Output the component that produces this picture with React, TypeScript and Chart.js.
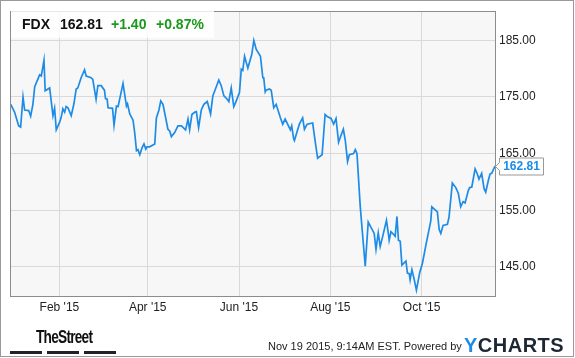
import React, { useEffect, useRef } from "react";
import { Chart, registerables } from "chart.js";

Chart.register(...registerables);

// Day offset from Jan 1 2015 (0 = Jan 1)
const days = [
  -1.5, 1.1, 3.8, 5.1, 6.7, 7.8, 10.5, 11.8, 13.3, 14.5, 17.8, 18.9, 20.7, 21.5, 24.5, 26.7, 27.8, 28.9,
  31.1, 32.2, 33.3, 34.5, 35.5, 36.7, 38.9, 40.7, 42.2, 43.3, 45.5, 47.8, 48.9, 52.2, 53.3, 55.5, 56.7,
  58.9, 61.1, 61.8, 62.9, 63.5, 66.5, 67.5, 69.1, 70.2, 73.5, 75.8, 76.5, 78.0, 80.2, 81.3, 82.5, 83.5,
  84.7, 86.2, 87.5, 88.7, 89.5, 91.3, 94.7, 95.8, 97.5, 98.7, 100.2, 103.5, 104.7, 105.8, 108.0, 110.2,
  112.5, 115.3, 116.9, 118.0, 119.5, 121.3, 122.5, 124.0, 125.8, 127.5, 129.8, 132.0, 133.5, 137.5, 139.1,
  140.9, 143.1, 144.2, 145.8, 147.5, 148.7, 151.3, 152.5, 153.5, 154.7, 156.9, 159.5, 160.9, 162.5, 165.3,
  166.9, 167.5, 168.5, 169.1, 171.3, 172.5, 174.2, 175.8, 178.7, 180.2, 181.8, 185.3, 186.2, 187.5, 188.0,
  191.3, 193.5, 194.7, 196.5, 200.2, 201.8, 203.5, 206.5, 208.5, 210.2, 212.5, 214.2, 215.8, 217.5, 219.1,
  220.7, 222.0, 223.5, 224.7, 227.5, 228.7, 229.8, 232.0, 235.3, 237.3, 241.3, 242.5, 244.0, 245.3, 246.9,
  249.5, 250.9, 251.3, 252.5, 254.0, 255.3, 256.5, 257.5, 258.7, 259.8, 262.5, 263.5, 264.7, 265.3, 266.5,
  268.0, 269.5, 271.8, 273.5, 275.8, 279.1, 279.8, 283.5, 284.7, 285.8, 287.3, 290.2, 291.3, 293.5, 295.8,
  297.5, 299.1, 300.7, 302.0, 304.2, 305.1, 306.5, 308.7, 310.2, 311.3, 313.1, 314.7, 315.8, 317.5, 318.7,
  319.8, 322,
];

const prices = [
  173.7, 172.3, 169.9, 169.7, 175.0, 172.7, 172.6, 171.6, 173.7, 176.8, 178.9, 178.7, 181.5, 176.1, 176.6,
  171.7, 173.0, 169.2, 170.5, 171.4, 172.9, 172.3, 173.3, 173.1, 171.7, 173.8, 176.4, 176.6, 178.4, 179.8,
  178.7, 178.4, 178.1, 174.6, 177.0, 177.0, 176.2, 174.7, 174.6, 173.1, 173.0, 170.0, 173.4, 173.3, 177.4,
  173.4, 173.8, 172.0, 170.9, 168.7, 165.5, 165.7, 164.8, 166.0, 166.7, 165.8, 166.2, 166.2, 166.7, 171.3,
  172.7, 174.3, 173.7, 169.3, 169.0, 168.0, 168.7, 169.9, 169.9, 169.2, 171.1, 169.2, 171.9, 172.3, 172.4,
  169.6, 172.7, 173.7, 174.2, 172.0, 175.2, 178.0, 177.0, 175.2, 174.6, 174.2, 176.6, 173.3, 174.0, 175.8,
  179.9, 179.7, 182.2, 180.1, 182.5, 185.0, 183.4, 182.2, 178.4, 178.4, 175.9, 176.2, 176.4, 176.2, 173.1,
  173.7, 171.3, 170.2, 171.1, 169.2, 169.9, 167.6, 167.3, 170.2, 171.3, 169.3, 170.2, 170.4, 167.3, 164.2,
  164.8, 171.9, 171.5, 171.2, 170.2, 171.2, 167.0, 168.2, 169.3, 167.3, 163.6, 164.8, 165.0, 165.7, 165.0,
  155.6, 145.1, 152.9, 150.9, 148.1, 151.0, 148.6, 150.3, 153.2, 150.6, 149.7, 151.2, 150.8, 150.4, 153.9,
  149.7, 149.5, 145.3, 146.0, 143.9, 143.8, 142.7, 144.5, 142.8, 140.9, 144.1, 145.6, 148.8, 153.1, 155.6,
  154.7, 151.6, 150.9, 152.3, 152.5, 153.8, 159.8, 159.0, 158.0, 155.6, 156.5, 156.3, 158.5, 159.0, 159.1,
  162.3, 161.4, 160.5, 161.5, 158.8, 158.2, 160.2, 161.4, 161.5, 162.81,
];

const xTickDays = [31, 90, 151, 212, 273];
const xTickLabels = ["Feb '15", "Apr '15", "Jun '15", "Aug '15", "Oct '15"];
const yTicks = [145, 155, 165, 175, 185];

const ticker = "FDX";
const lastPrice = "162.81";
const changeAbs = "+1.40";
const changePct = "+0.87%";
const stampText = "Nov 19 2015, 9:14AM EST.";

const LINE = "#1e8ce6";
const FONT = "'Liberation Sans', Arial, sans-serif";

export default function App() {
  const canvasRef = useRef<HTMLCanvasElement | null>(null);

  useEffect(() => {
    const canvas = canvasRef.current;
    if (!canvas) return;

    const plotBg = {
      id: "plotBg",
      beforeDraw(chart: any) {
        const { ctx, chartArea: a } = chart;
        ctx.save();
        ctx.fillStyle = "#f7f7f7";
        ctx.fillRect(a.left, a.top, a.right - a.left, a.bottom - a.top);
        ctx.restore();
      },
      afterDatasetsDraw(chart: any) {
        const { ctx, chartArea: a } = chart;
        ctx.save();
        ctx.strokeStyle = "#8c8c8c";
        ctx.lineWidth = 1;
        ctx.strokeRect(Math.round(a.left) + 0.5, Math.round(a.top) + 0.5, Math.round(a.right - a.left), Math.round(a.bottom - a.top));
        ctx.restore();
      },
      afterDraw(chart: any) {
        const { ctx, chartArea: a } = chart;
        const ds = chart.data.datasets[0].data;
        const last = ds[ds.length - 1];
        const y = Math.round(chart.scales.y.getPixelForValue(last.y)) + 0.5;
        const x0 = Math.round(a.right) + 0.5;
        const bx = x0 + 4;
        const bw = 44;
        const bh = 17;
        ctx.save();
        ctx.beginPath();
        ctx.moveTo(x0, y);
        ctx.lineTo(bx, y - 4);
        ctx.lineTo(bx, y - bh / 2);
        ctx.lineTo(bx + bw, y - bh / 2);
        ctx.lineTo(bx + bw, y + bh / 2);
        ctx.lineTo(bx, y + bh / 2);
        ctx.lineTo(bx, y + 4);
        ctx.closePath();
        ctx.fillStyle = "#ffffff";
        ctx.fill();
        ctx.strokeStyle = "#999999";
        ctx.lineWidth = 1;
        ctx.stroke();
        ctx.fillStyle = LINE;
        ctx.font = `bold 12px ${FONT}`;
        ctx.textAlign = "center";
        ctx.textBaseline = "middle";
        ctx.fillText(lastPrice, bx + bw / 2, y + 0.5);
        ctx.restore();
      },
    };

    const chart = new Chart(canvas, {
      type: "line",
      data: {
        datasets: [
          {
            data: days.map((d, i) => ({ x: d, y: prices[i] })),
            borderColor: LINE,
            borderWidth: 1.7,
            pointRadius: 0,
            tension: 0,
            fill: false,
          },
        ],
      },
      options: {
        responsive: false,
        animation: false,
        devicePixelRatio: 1,
        layout: { padding: { left: 10, top: 10, right: 0, bottom: 0 } },
        plugins: { legend: { display: false }, tooltip: { enabled: false } },
        scales: {
          x: {
            type: "linear",
            min: -2,
            max: 322,
            afterBuildTicks: (s: any) => {
              s.ticks = xTickDays.map((v) => ({ value: v }));
            },
            afterFit: (s: any) => {
              s.height = 62;
            },
            grid: { color: "#d9d9d9", drawTicks: false },
            border: { display: false },
            ticks: {
              autoSkip: false,
              maxRotation: 0,
              padding: 4,
              color: "#222222",
              font: { family: FONT, size: 12 },
              callback: (_v: any, i: number) => xTickLabels[i],
            },
          },
          y: {
            position: "right",
            min: 139.85,
            max: 190.15,
            afterBuildTicks: (s: any) => {
              s.ticks = yTicks.map((v) => ({ value: v }));
            },
            afterFit: (s: any) => {
              s.width = 80;
            },
            grid: { color: "#d9d9d9", drawTicks: false },
            border: { display: false },
            ticks: {
              padding: 4,
              color: "#222222",
              font: { family: FONT, size: 12 },
              callback: (v: any) => Number(v).toFixed(2),
            },
          },
        },
      },
      plugins: [plotBg],
    } as any);

    return () => chart.destroy();
  }, []);

  const hdr: React.CSSProperties = {
    position: "absolute",
    top: 16,
    fontFamily: FONT,
    fontWeight: "bold",
    fontSize: 14,
    lineHeight: "16px",
    whiteSpace: "nowrap",
  };

  return (
    <div
      style={{
        position: "absolute",
        left: 0,
        top: 0,
        width: 575,
        height: 358,
        background: "#ffffff",
        overflow: "hidden",
      }}
    >
      <canvas ref={canvasRef} width={575} height={358} style={{ position: "absolute", left: 0, top: 0, width: 575, height: 358 }} />
      <div
        style={{
          position: "absolute",
          left: 0,
          top: 0,
          width: 574,
          height: 357,
          boxSizing: "border-box",
          border: "1px solid #9a9a9a",
          pointerEvents: "none",
        }}
      />
      <div
        style={{
          position: "absolute",
          left: 11,
          top: 11,
          width: 203,
          height: 27,
          background: "rgba(255,255,255,0.8)",
        }}
      />
      <div style={{ ...hdr, left: 22, color: "#111" }}>{ticker}</div>
      <div style={{ ...hdr, left: 60, color: "#111" }}>{lastPrice}</div>
      <div style={{ ...hdr, left: 111, color: "#1a9a1a" }}>{changeAbs}</div>
      <div style={{ ...hdr, left: 156, color: "#1a9a1a" }}>{changePct}</div>

      <div
        style={{
          position: "absolute",
          left: 36,
          top: 327,
          fontFamily: FONT,
          fontWeight: "bold",
          fontSize: 18,
          letterSpacing: -1,
          lineHeight: "20px",
          color: "#111",
          whiteSpace: "nowrap",
          transform: "scaleX(0.76)",
          transformOrigin: "left top",
        }}
      >
        TheStreet
      </div>
      <div style={{ position: "absolute", left: 10, top: 351, width: 32, height: 3, background: "#222" }} />
      <div style={{ position: "absolute", left: 47, top: 351, width: 32, height: 3, background: "#222" }} />
      <div style={{ position: "absolute", left: 84, top: 351, width: 32, height: 3, background: "#222" }} />

      <div
        style={{
          position: "absolute",
          left: 268,
          top: 339,
          fontFamily: FONT,
          fontSize: 11,
          lineHeight: "14px",
          color: "#222",
          whiteSpace: "nowrap",
        }}
      >
        {stampText} Powered by
      </div>
      <div
        style={{
          position: "absolute",
          left: 464,
          top: 334,
          fontFamily: FONT,
          fontWeight: "bold",
          fontSize: 20,
          lineHeight: "22px",
          letterSpacing: 0.5,
          whiteSpace: "nowrap",
        }}
      >
        <span style={{ color: "#1e8ce6" }}>Y</span>
        <span style={{ color: "#1d2733" }}>CHARTS</span>
      </div>
    </div>
  );
}
